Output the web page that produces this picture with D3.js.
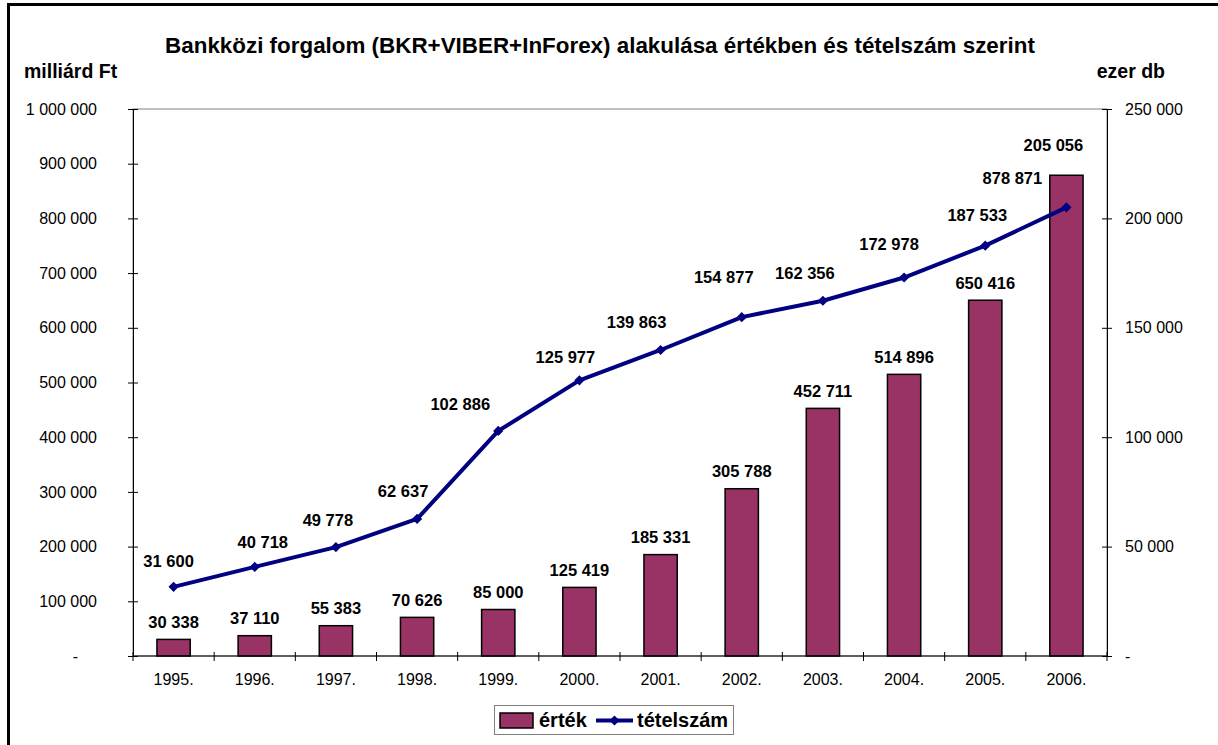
<!DOCTYPE html>
<html lang="hu">
<head>
<meta charset="UTF-8">
<title>Bankközi forgalom</title>
<script src="https://d3js.org/d3.v7.min.js"></script>
<style>
  body, html { margin: 0; padding: 0; background: #fff; }
  svg { display: block; font-family: "Liberation Sans", Arial, sans-serif; }
  .axis text { font-size: 16px; fill: #000; }
  .axis path, .axis line { stroke: #000; }
  .lbl { font-size: 16.5px; font-weight: bold; }
</style>
</head>
<body>
<div id="chart"></div>
<script>
// data
var years = ["1995.", "1996.", "1997.", "1998.", "1999.", "2000.", "2001.", "2002.", "2003.", "2004.", "2005.", "2006."];
var ertek = [30338, 37110, 55383, 70626, 85000, 125419, 185331, 305788, 452711, 514896, 650416, 878871];   // milliárd Ft
var tetelszam = [31600, 40718, 49778, 62637, 102886, 125977, 139863, 154877, 162356, 172978, 187533, 205056]; // ezer db
var leftTicks = [0, 100000, 200000, 300000, 400000, 500000, 600000, 700000, 800000, 900000, 1000000];
var rightTicks = [0, 50000, 100000, 150000, 200000, 250000];

// hand-placed label nudges (as moved in the original sheet)
var barLabelNudge = [[0,0],[0,0],[0,0],[0,0],[0,0],[0,0],[0,0],[0,0],[0,0],[0,0],[0,0],[-54,20]];
var lineLabelNudge = [[-5,-26],[8,-25],[-8,-27],[-14,-28],[-38,-27],[-14,-23],[-24,-28],[-18,-40],[-18,-28],[-15,-34],[-8,-31],[-13,-62]];

var W = 1218, H = 745;
var plot = {left: 133, right: 1107, top: 109, bottom: 656};

var svg = d3.select("#chart").append("svg")
    .attr("width", W).attr("height", H);

// outer frame (cut off at right and bottom)
svg.append("rect")
    .attr("x", 8.5).attr("y", 4.5)
    .attr("width", 1400).attr("height", 1000)
    .attr("fill", "#fff").attr("stroke", "#000").attr("stroke-width", 3);

var loc = d3.formatLocale({decimal: ",", thousands: " ", grouping: [3], currency: ["", ""]});
var fmt = loc.format(",");
var tickFmt = function(d) { return d === 0 ? "-" : fmt(d); };

var x = d3.scaleBand().domain(years).range([plot.left, plot.right]).padding(0);
var yL = d3.scaleLinear().domain([0, 1000000]).range([plot.bottom, plot.top]);
var yR = d3.scaleLinear().domain([0, 250000]).range([plot.bottom, plot.top]);
var barW = x.bandwidth() * 0.41;
var cx = function(i) { return x(years[i]) + x.bandwidth() / 2; };

// plot area border
svg.append("rect")
    .attr("x", plot.left).attr("y", plot.top)
    .attr("width", plot.right - plot.left).attr("height", plot.bottom - plot.top)
    .attr("fill", "none").attr("stroke", "#808080").attr("stroke-width", 1);

// title
svg.append("text")
    .attr("x", 600).attr("y", 53)
    .attr("text-anchor", "middle")
    .style("font-size", "22.4px").style("font-weight", "bold")
    .text("Bankközi forgalom (BKR+VIBER+InForex) alakulása értékben és tételszám szerint");

svg.append("text")
    .attr("x", 24).attr("y", 78)
    .style("font-size", "19.5px").style("font-weight", "bold")
    .text("milliárd Ft");

svg.append("text")
    .attr("x", 1165).attr("y", 78)
    .attr("text-anchor", "end")
    .style("font-size", "19.5px").style("font-weight", "bold")
    .text("ezer db");

// bars
svg.selectAll(".bar")
    .data(ertek)
    .enter().append("rect")
    .attr("class", "bar")
    .attr("x", function(d, i) { return cx(i) - barW / 2; })
    .attr("y", function(d) { return yL(d); })
    .attr("width", barW)
    .attr("height", function(d) { return plot.bottom - yL(d); })
    .attr("fill", "#993366")
    .attr("stroke", "#000")
    .attr("stroke-width", 1.5);

// axes
var gL = svg.append("g").attr("class", "axis")
    .attr("transform", "translate(" + plot.left + ",0)")
    .call(d3.axisLeft(yL).tickValues(leftTicks).tickFormat(tickFmt).tickSizeInner(5).tickSizeOuter(0).tickPadding(31));
gL.selectAll(".tick line").attr("x1", -5).attr("x2", 5);
gL.selectAll(".tick text").filter(function(d) { return d === 0; }).attr("dx", -19);

var gR = svg.append("g").attr("class", "axis")
    .attr("transform", "translate(" + plot.right + ",0)")
    .call(d3.axisRight(yR).tickValues(rightTicks).tickFormat(tickFmt).tickSizeInner(5).tickSizeOuter(0).tickPadding(13));
gR.selectAll(".tick line").attr("x1", -5).attr("x2", 5);

var gX = svg.append("g").attr("class", "axis")
    .attr("transform", "translate(0," + plot.bottom + ")")
    .call(d3.axisBottom(x).tickSize(0).tickPadding(18));
gX.select(".domain").attr("d", "M" + plot.left + ",0H" + plot.right);
// category separator ticks
gX.selectAll(".sep")
    .data(d3.range(years.length + 1))
    .enter().append("line")
    .attr("x1", function(i) { return plot.left + i * x.step(); })
    .attr("x2", function(i) { return plot.left + i * x.step(); })
    .attr("y1", -4).attr("y2", 5)
    .attr("stroke", "#000");

// line series
var line = d3.line()
    .x(function(d, i) { return cx(i); })
    .y(function(d) { return yR(d); });

svg.append("path")
    .datum(tetelszam)
    .attr("fill", "none")
    .attr("stroke", "#000080")
    .attr("stroke-width", 4)
    .attr("stroke-linejoin", "round")
    .attr("d", line);

var diamond = d3.symbol().type(d3.symbolSquare).size(52);
svg.selectAll(".pt")
    .data(tetelszam)
    .enter().append("path")
    .attr("class", "pt")
    .attr("d", diamond)
    .attr("fill", "#000080")
    .attr("transform", function(d, i) { return "translate(" + cx(i) + "," + yR(d) + ") rotate(45)"; });

// value labels
svg.selectAll(".barlbl")
    .data(ertek)
    .enter().append("text")
    .attr("class", "lbl")
    .attr("text-anchor", "middle")
    .attr("x", function(d, i) { return cx(i) + barLabelNudge[i][0]; })
    .attr("y", function(d, i) { return yL(d) - 11.5 + barLabelNudge[i][1]; })
    .text(function(d) { return fmt(d); });

svg.selectAll(".linelbl")
    .data(tetelszam)
    .enter().append("text")
    .attr("class", "lbl")
    .attr("text-anchor", "middle")
    .attr("x", function(d, i) { return cx(i) + lineLabelNudge[i][0]; })
    .attr("y", function(d, i) { return yR(d) + 6 + lineLabelNudge[i][1]; })
    .text(function(d) { return fmt(d); });

// legend
var lg = svg.append("g");
lg.append("rect")
    .attr("x", 494.5).attr("y", 705.5).attr("width", 239).attr("height", 29)
    .attr("fill", "#fff").attr("stroke", "#808080").attr("stroke-width", 1);
lg.append("rect")
    .attr("x", 500).attr("y", 713).attr("width", 33).attr("height", 15)
    .attr("fill", "#993366").attr("stroke", "#000").attr("stroke-width", 1.5);
lg.append("text")
    .attr("x", 539).attr("y", 727)
    .style("font-size", "20px").style("font-weight", "bold")
    .text("érték");
lg.append("line")
    .attr("x1", 596).attr("x2", 633).attr("y1", 720.5).attr("y2", 720.5)
    .attr("stroke", "#000080").attr("stroke-width", 4);
lg.append("path")
    .attr("d", diamond)
    .attr("fill", "#000080")
    .attr("transform", "translate(614.5,720.5) rotate(45)");
lg.append("text")
    .attr("x", 637).attr("y", 727)
    .style("font-size", "20px").style("font-weight", "bold")
    .text("tételszám");
</script>
</body>
</html>
